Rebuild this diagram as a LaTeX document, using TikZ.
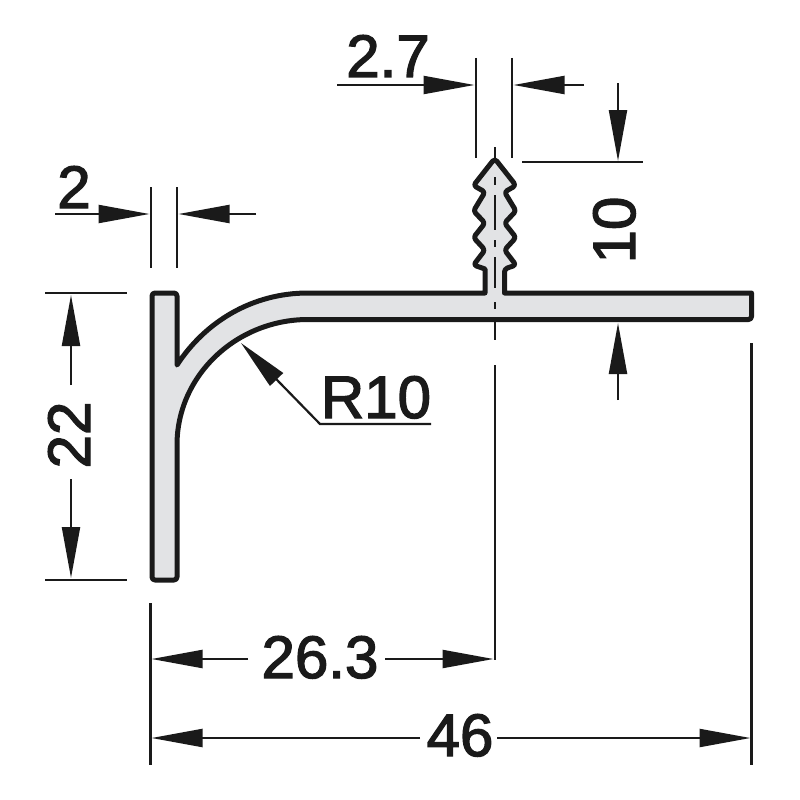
\documentclass[tikz,border=0pt]{standalone}
\usepackage{fontspec}
\setmainfont{Liberation Sans}
\newfontfamily\dimfont{Liberation Sans}[FakeBold=2.2]
\usetikzlibrary{arrows.meta}
\definecolor{profile}{HTML}{E2E3E5}
\definecolor{ink}{HTML}{1A1A1A}
\tikzset{
  dimline/.style={line width=2.2pt,draw=ink},
  dimarrow/.style={dimline,-{Triangle[length=51pt,width=18pt]}},
  profileline/.style={line width=5pt,draw=ink,fill=profile,line join=round},
  center/.style={line width=2.2pt,draw=ink},
  dimtext/.style={inner sep=0pt,font=\dimfont\fontsize{60}{62}\selectfont,text=ink},
}
\begin{document}
\begin{tikzpicture}[x=1pt,y=-1pt]
\useasboundingbox (0,0) rectangle (800,800);
% profile
\draw[profileline]
  (177,365) .. controls (205,322) and (252,293) .. (308,293)
  -- (485,293) -- (485,269)
  [rounded corners=3pt]
  -- (473.5,265) -- (485,250) -- (473.5,237.5) -- (485,223) -- (473.5,211) -- (485,192)
  -- (473.5,185.5) [rounded corners=3.5pt] -- (494.7,158.5) -- (516,185.5) [rounded corners=3pt]
  -- (504.5,192) -- (516,211) -- (504.5,223) -- (516,237.5) -- (504.5,250) -- (516,265) -- (504.5,269)
  [sharp corners] -- (504.5,293) -- (751.5,293)
  [rounded corners=3pt] -- (751.5,319.5) [sharp corners] -- (308,319.5)
  .. controls (237,319.5) and (177,375) .. (177,445)
  [rounded corners=3pt] -- (177,580) -- (152,580) -- (152,293) -- (177,293) [sharp corners] -- cycle;
% centre line
\coordinate (c0) at (494.7,147);
\coordinate (c1) at (494.7,160);
\coordinate (c2) at (494.7,177);
\coordinate (c3) at (494.7,185);
\coordinate (c4) at (494.7,195);
\coordinate (c5) at (494.7,230);
\coordinate (c6) at (494.7,240);
\coordinate (c7) at (494.7,247);
\coordinate (c8) at (494.7,257);
\coordinate (c9) at (494.7,288);
\coordinate (c10) at (494.7,302);
\coordinate (c11) at (494.7,309);
\coordinate (c12) at (494.7,322);
\coordinate (c13) at (494.7,340);
\coordinate (c14) at (494.7,365);
\coordinate (c15) at (494.7,660);
\draw[center] (c0)--(c1) (c2)--(c3) (c4)--(c5) (c6)--(c7) (c8)--(c9) (c10)--(c11) (c12)--(c13) (c14)--(c15);
% labels
\node[dimtext,anchor=base] (t27) at (388,77) {2.7};
\node[dimtext,anchor=base] (t2) at (74,208) {2};
\node[dimtext,anchor=base,rotate=90] (t10) at (635,230) {10};
\node[dimtext,anchor=base,rotate=90] (t22) at (90,435) {22};
\node[dimtext,anchor=base] (tr) at (376,418) {R10};
\node[dimtext,anchor=base] (t263) at (320,678) {26.3};
\node[dimtext,anchor=base] (t46) at (460,756) {46};
% dim 2.7
\coordinate (a1) at (476,58); \coordinate (a2) at (476,158);
\coordinate (a3) at (512,58); \coordinate (a4) at (512,158);
\coordinate (a5) at (337,85); \coordinate (a6) at (474.5,85);
\coordinate (a7) at (584,85); \coordinate (a8) at (513.5,85);
\draw[dimline] (a1)--(a2) (a3)--(a4);
\draw[dimarrow] (a5)--(a6);
\draw[dimarrow] (a7)--(a8);
% dim 10
\coordinate (b1) at (522,162); \coordinate (b2) at (643,162);
\coordinate (b3) at (618,83); \coordinate (b4) at (618,161);
\coordinate (b5) at (618,400); \coordinate (b6) at (618,323);
\draw[dimline] (b1)--(b2);
\draw[dimarrow] (b3)--(b4);
\draw[dimarrow] (b5)--(b6);
% dim 2
\coordinate (d1) at (151,187); \coordinate (d2) at (151,268);
\coordinate (d3) at (177,187); \coordinate (d4) at (177,268);
\coordinate (d5) at (55,214); \coordinate (d6) at (149.5,214);
\coordinate (d7) at (256,214); \coordinate (d8) at (178.5,214);
\draw[dimline] (d1)--(d2) (d3)--(d4);
\draw[dimarrow] (d5)--(d6);
\draw[dimarrow] (d7)--(d8);
% dim 22
\coordinate (e1) at (45,293); \coordinate (e2) at (127,293);
\coordinate (e3) at (45,580); \coordinate (e4) at (127,580);
\coordinate (e5) at (71,385); \coordinate (e6) at (71,295);
\coordinate (e7) at (71,479); \coordinate (e8) at (71,578);
\draw[dimline] (e1)--(e2) (e3)--(e4);
\draw[dimarrow] (e5)--(e6);
\draw[dimarrow] (e7)--(e8);
% R10
\coordinate (r1) at (431,424); \coordinate (r2) at (320,424); \coordinate (r3) at (241,343);
\draw[dimarrow] (r1)--(r2)--(r3);
% horizontal
\coordinate (f1) at (150.5,603); \coordinate (f2) at (150.5,765);
\coordinate (f3) at (751.5,343); \coordinate (f4) at (751.5,765);
\draw[dimline] (f1)--(f2) (f3)--(f4);
\coordinate (g1) at (248,659); \coordinate (g2) at (151.5,659);
\coordinate (g3) at (385,659); \coordinate (g4) at (493.5,659);
\draw[dimarrow] (g1)--(g2);
\draw[dimarrow] (g3)--(g4);
\coordinate (h1) at (420,738); \coordinate (h2) at (151.5,738);
\coordinate (h3) at (497,738); \coordinate (h4) at (750.5,738);
\draw[dimarrow] (h1)--(h2);
\draw[dimarrow] (h3)--(h4);
\end{tikzpicture}
\end{document}
